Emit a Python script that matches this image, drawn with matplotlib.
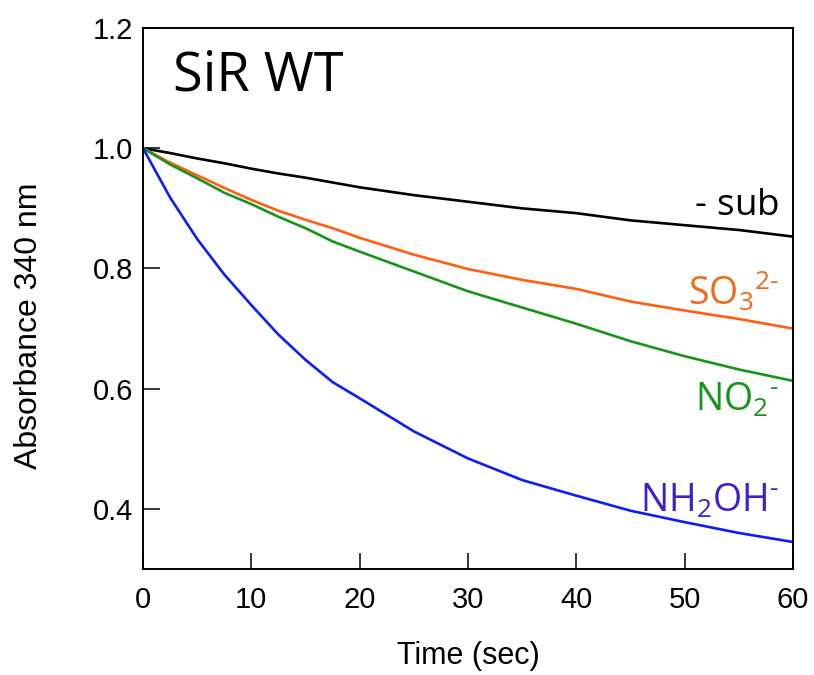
import matplotlib
matplotlib.use('Agg')
import matplotlib.pyplot as plt

plt.rcParams.update({
    'font.family': ['Liberation Sans', 'DejaVu Sans'],
    'mathtext.fontset': 'custom',
    'mathtext.rm': 'Open Sans',
    'mathtext.it': 'Open Sans:italic',
    'mathtext.bf': 'Open Sans:bold',
    'mathtext.default': 'rm',
})

# time points (sec) and absorbance at 340 nm
time_s = [0, 2.5, 5, 7.5, 10, 12.5, 15, 17.5, 20, 25, 30, 35, 40, 45, 50, 55, 60]
no_sub = [1.0, 0.992, 0.983, 0.975, 0.966, 0.958, 0.951, 0.943, 0.935, 0.922, 0.911,
          0.900, 0.892, 0.880, 0.872, 0.864, 0.853]
sulfite = [1.0, 0.976, 0.955, 0.934, 0.914, 0.896, 0.881, 0.867, 0.851, 0.823, 0.799,
           0.781, 0.766, 0.745, 0.730, 0.716, 0.700]
nitrite = [1.0, 0.973, 0.950, 0.926, 0.907, 0.886, 0.867, 0.845, 0.828, 0.795, 0.762,
           0.735, 0.708, 0.679, 0.654, 0.632, 0.613]
hydroxylamine = [1.0, 0.918, 0.849, 0.790, 0.739, 0.690, 0.648, 0.611, 0.584, 0.529, 0.484,
                 0.448, 0.422, 0.397, 0.378, 0.360, 0.345]

series = [
    (no_sub, '#000000', '#000000', r'$\mathrm{\text{-}\ sub}$', 0.889, 26.5),
    (sulfite, '#FF5F0F', '#F26A1B', r'$\mathrm{SO_3{}^{2\text{-}}}$', 0.740, 27),
    (nitrite, '#17951A', '#17951A', r'$\mathrm{NO_2{}^{\text{-}}}$', 0.563, 27),
    (hydroxylamine, '#0A1EF5', '#3A22D0', r'$\mathrm{NH_2OH^{\text{-}}}$', 0.395, 27),
]

fig = plt.figure(figsize=(8.14, 6.75), dpi=100)
ax = fig.add_axes([0.1757, 0.157, 0.7985, 0.8015])

for ys, lc, tc, label, ly, fs in series:
    ax.plot(time_s, ys, color=lc, lw=1.9)
    ax.text(58.7, ly, label, color=tc, fontsize=fs, ha='right', va='baseline')

ax.text(2.75, 1.096, 'SiR WT', fontsize=39, family='Open Sans', va='baseline')

ax.set_xlim(0, 60)
ax.set_ylim(0.3, 1.2)
ax.set_xticks([0, 10, 20, 30, 40, 50, 60])
ax.set_yticks([0.4, 0.6, 0.8, 1.0, 1.2])
ax.set_yticklabels(['0.4', '0.6', '0.8', '1.0', '1.2'])
ax.tick_params(axis='x', direction='in', length=11.5, width=1.1, pad=12, labelsize=21)
ax.tick_params(axis='y', direction='in', length=12, width=1.1, pad=7, labelsize=21)
for sp in ax.spines.values():
    sp.set_linewidth(1.4)

ax.set_xlabel('Time (sec)', fontsize=22, labelpad=20)
ax.set_ylabel('Absorbance 340 nm', fontsize=23)
ax.yaxis.set_label_coords(-0.152, 0.45)

plt.savefig('out.png', dpi=100, facecolor='white')
